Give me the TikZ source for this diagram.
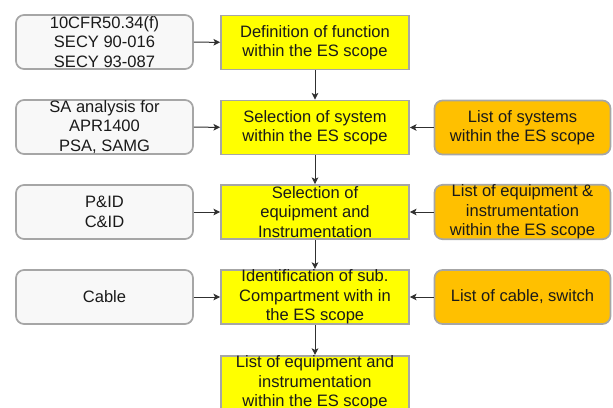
\documentclass[tikz,border=0pt]{standalone}
\usepackage{fontspec}
\setmainfont{Liberation Sans}
\usetikzlibrary{arrows.meta}
\definecolor{bordergray}{HTML}{A6A6A6}
\definecolor{leftfill}{HTML}{F8F8F8}
\definecolor{yel}{HTML}{FFFF00}
\definecolor{orng}{HTML}{FFC000}
\definecolor{txt}{HTML}{1A1A1A}
\definecolor{arr}{HTML}{303030}
\tikzset{
  base/.style={draw=bordergray, line width=1.3pt, minimum height=54*0.75pt, align=center,
    font=\fontsize{12.4}{14.6}\selectfont, text=txt, inner sep=0pt},
  srcbox/.style={base, fill=leftfill, rounded corners=6pt, minimum width=177*0.75pt},
  stepbox/.style={base, fill=yel, minimum width=188*0.75pt},
  listbox/.style={base, fill=orng, rounded corners=6pt, minimum width=176*0.75pt},
  conn/.style={draw=arr, line width=0.75pt, -{Stealth[length=5pt,width=5pt,inset=1.2pt]}}
}
\begin{document}
\begin{tikzpicture}[x=0.75pt,y=-0.75pt]
\useasboundingbox (0,0) rectangle (613,407);
\clip (0,0) rectangle (613,407);
\node[srcbox] (s1) at (104.5,42) {10CFR50.34(f)\\SECY 90-016\\SECY 93-087};
\node[srcbox] (s2) at (104.5,127) {SA analysis for\\APR1400\\PSA, SAMG};
\node[srcbox] (s3) at (104.5,212) {P\&ID\\C\&ID};
\node[srcbox] (s4) at (104.5,297) {Cable};
\node[stepbox] (y1) at (315,42.5) {Definition of function\\within the ES scope};
\node[stepbox] (y2) at (315,127.5) {Selection of system\\within the ES scope};
\node[stepbox] (y3) at (315,212) {Selection of\\equipment and\\Instrumentation};
\node[stepbox] (y4) at (315,297) {Identification of sub.\\Compartment with in\\the ES scope};
\node[stepbox] (y5) at (315,383) {List of equipment and\\instrumentation\\within the ES scope};
\node[listbox] (o2) at (522.5,127.5) {List of systems\\within the ES scope};
\node[listbox] (o3) at (522.5,212) {List of equipment \&\\instrumentation\\within the ES scope};
\node[listbox] (o4) at (522.5,297) {List of cable, switch};
\draw[conn] (s1) -- (y1);
\draw[conn] (s2) -- (y2);
\draw[conn] (s3) -- (y3);
\draw[conn] (s4) -- (y4);
\draw[conn] (o2) -- (y2);
\draw[conn] (o3) -- (y3);
\draw[conn] (o4) -- (y4);
\draw[conn] (y1) -- (y2);
\draw[conn] (y2) -- (y3);
\draw[conn] (y3) -- (y4);
\draw[conn] (y4) -- (y5);
\end{tikzpicture}
\end{document}
